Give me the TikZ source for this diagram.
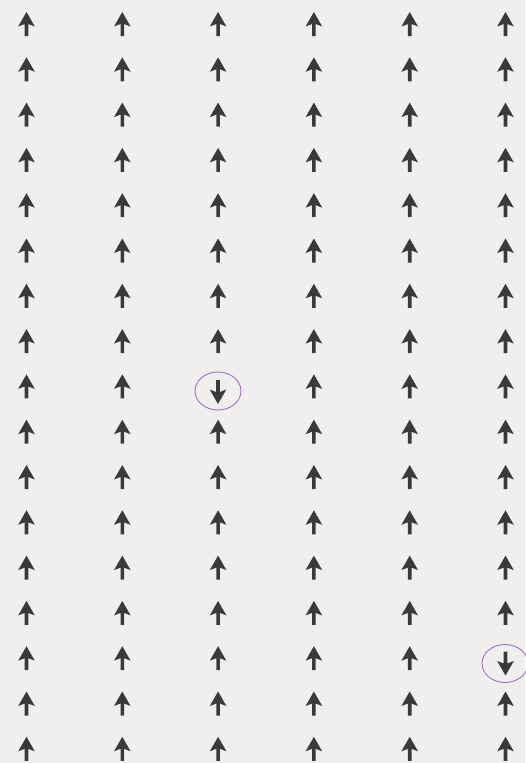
\documentclass[tikz,border=0pt]{standalone}
\definecolor{bgcol}{HTML}{F0EFED}
\definecolor{arrowcol}{HTML}{3A3A3A}
\definecolor{ringcol}{HTML}{A66CC8}
\tikzset{
  upar/.pic={
    \fill[arrowcol] (0,-12) -- (-8.3,2.5) -- (-1.8,0) -- (-1.8,12) -- (1.8,12) -- (1.8,0) -- (8.3,2.5) -- cycle;
  },
  ring/.style={draw=ringcol, line width=0.9pt},
}
\begin{document}
\begin{tikzpicture}[x=1pt,y=-1pt]
\fill[bgcol] (0,0) rectangle (525,763);
\useasboundingbox (0,0) rectangle (525,763);
\foreach \c in {0,...,5}{
  \foreach \r in {0,...,16}{
    \pgfmathsetmacro{\px}{26.5+95.8*\c}
    \pgfmathsetmacro{\py}{24+45.3*\r}
    \ifnum\c=2 \ifnum\r=8 \else
      \pic at (\px,\py) {upar};
    \fi\else
    \ifnum\c=5 \ifnum\r=14 \else
      \pic at (\px,\py) {upar};
    \fi\else
      \pic at (\px,\py) {upar};
    \fi\fi
  }
}
\pic[rotate=180] at (218,392) {upar};
\pic[rotate=180] at (505.5,663.5) {upar};
\draw[ring] (218,391) ellipse [x radius=23, y radius=19];
\draw[ring] (505,663.5) ellipse [x radius=23, y radius=19];
\end{tikzpicture}
\end{document}
